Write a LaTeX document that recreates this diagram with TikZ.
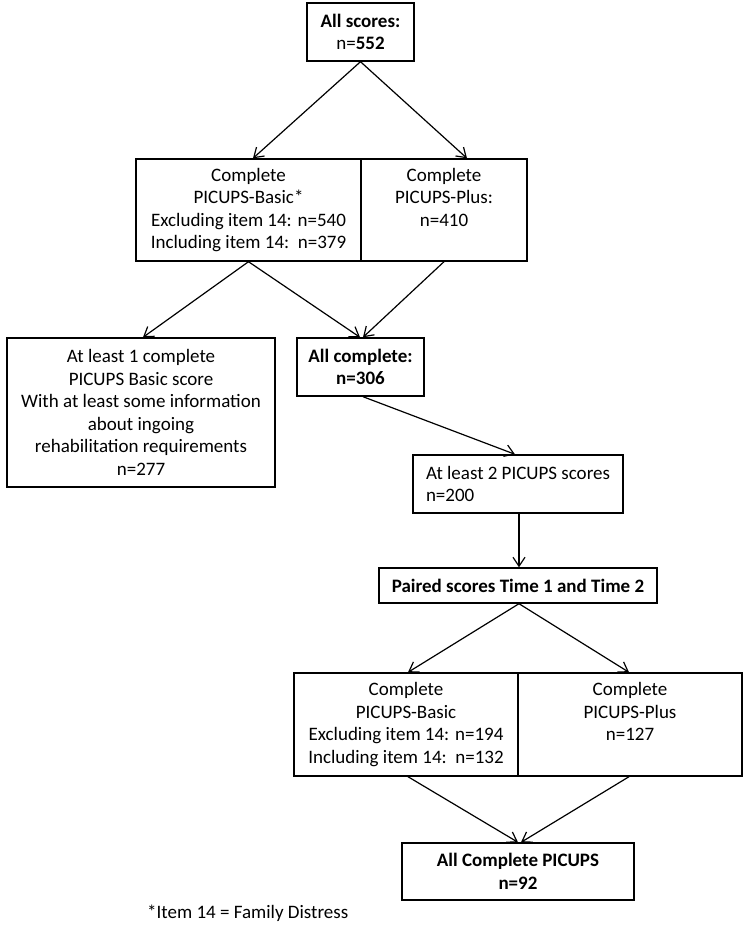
\documentclass[tikz,border=0pt]{standalone}
\usepackage{fontspec}
\setmainfont{Carlito}
\usetikzlibrary{arrows.meta,positioning}
\begin{document}
\begin{tikzpicture}[x=1pt,y=-1pt,
  box/.style={draw,line width=1.4pt,align=center,inner sep=0pt,font=\fontsize{19}{22.5}\selectfont},
  arr/.style={line width=1.2pt,-{Straight Barb[length=9pt,width=12pt,line width=1.2pt]}}]
\useasboundingbox (0,0) rectangle (748,930);
\node[box,minimum width=107pt,minimum height=58pt] (top) at (360.5,32) {\textbf{All scores:}\\n=\textbf{552}};
\node[box,minimum width=225pt,minimum height=102pt] (bl) at (248.5,210) {Complete\\PICUPS-Basic*\\Excluding item 14: n=540\\Including item 14:\ \ n=379};
\node[box,minimum width=166pt,minimum height=102pt] (pl) at (444,210) {Complete\\PICUPS-Plus:\\n=410\\\vphantom{Ig}};
\node[box,minimum width=268pt,minimum height=149pt] (one) at (141,412.5) {At least 1 complete\\PICUPS Basic score\\With at least some information\\about ingoing\\rehabilitation requirements\\n=277};
\node[box,minimum width=127pt,minimum height=58pt] (allc) at (360.5,367) {\textbf{All complete:}\\\textbf{n=306}};
\node[box,align=flush left,text width=184pt,inner xsep=13pt,minimum height=58pt] (two) at (518,484) {At least 2 PICUPS scores\\n=200};
\node[box,minimum width=278pt,minimum height=35pt] (pair) at (518,585.5) {\textbf{Paired scores Time 1 and Time 2}};
\node[box,minimum width=224pt,minimum height=103pt] (bl2) at (406,724.5) {Complete\\PICUPS-Basic\\Excluding item 14: n=194\\Including item 14:\ \ n=132};
\node[box,minimum width=224pt,minimum height=103pt] (pl2) at (630,724.5) {Complete\\PICUPS-Plus\\n=127\\\vphantom{Ig}};
\node[box,minimum width=232pt,minimum height=57pt] (fin) at (518,871.5) {\textbf{All Complete PICUPS}\\\textbf{n=92}};
\node[font=\fontsize{19}{22.5}\selectfont,anchor=west,inner sep=0pt] (note) at (147,913) {*Item 14 = Family Distress};
\draw[arr] (top.south) -- ([xshift=4.5pt]bl.north);
\draw[arr] (top.south) -- ([xshift=23pt]pl.north);
\draw[arr] (bl.south) -- ([xshift=2pt]one.north);
\draw[arr] (bl.south) -- ([xshift=-0.5pt]allc.north);
\draw[arr] (pl.south) -- ([xshift=2.5pt]allc.north);
\draw[arr] ([xshift=2.5pt]allc.south) -- ([xshift=-3pt]two.north);
\draw[arr] ([xshift=1pt]two.south) -- ([xshift=1pt]pair.north);
\draw[arr] ([xshift=1pt]pair.south) -- ([xshift=2pt]bl2.north);
\draw[arr] ([xshift=1pt]pair.south) -- ([xshift=-1pt]pl2.north);
\draw[arr] ([xshift=2pt]bl2.south) -- (fin.north);
\draw[arr] ([xshift=-1pt]pl2.south) -- ([xshift=3pt]fin.north);
\end{tikzpicture}
\end{document}
